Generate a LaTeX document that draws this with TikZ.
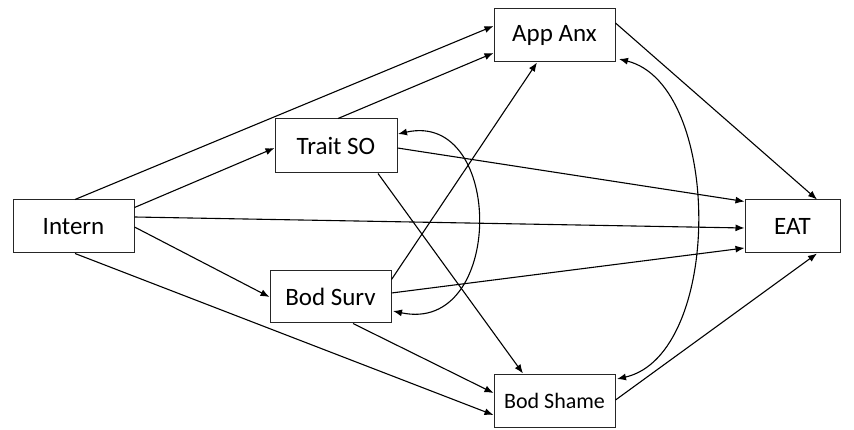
\documentclass[tikz,border=0pt]{standalone}
\usepackage{fontspec}
\setmainfont{Carlito}
\usetikzlibrary{arrows.meta}
\begin{document}
\begin{tikzpicture}[x=1pt,y=-1pt,
  box/.style={draw=black!85,line width=1pt,fill=white,inner sep=0pt,
    minimum width=121pt,minimum height=53pt,font=\fontsize{25}{28}\selectfont},
  arr/.style={line width=1.1pt,-{Latex[length=9pt,width=7pt]}},
  darr/.style={line width=1.1pt,{Latex[length=9pt,width=7pt]}-{Latex[length=9pt,width=7pt]}}]
\useasboundingbox (0,0) rectangle (854,430);
\node[box] (intern) at (73.5,226.5) {Intern};
\node[box,minimum width=122pt,minimum height=54pt] (trait) at (336,146) {Trait SO};
\node[box,minimum height=52pt] (surv) at (330.5,297) {Bod Surv};
\node[box] (anx) at (554.5,35.5) {App Anx};
\node[box,font=\fontsize{22}{26}\selectfont] (shame) at (554.5,400.5) {Bod Shame};
\node[box,minimum width=95pt] (eat) at (792.5,226.5) {EAT};
% Intern
\draw[arr] ([xshift=1.5pt]intern.north) -- ([yshift=9.5pt]anx.west);
\draw[arr] ([yshift=19pt]intern.east) -- ([yshift=-2pt]trait.west);
\draw[arr] ([yshift=9.5pt]intern.east) -- ([yshift=-1.5pt]eat.west);
\draw[arr] ([yshift=-0.5pt]intern.east) -- (surv.west);
\draw[arr] ([xshift=1.5pt]intern.south) -- ([yshift=-14.5pt]shame.west);
% Trait SO
\draw[arr] ([xshift=2pt]trait.north) -- ([yshift=-17.5pt]anx.west);
\draw[arr] ([yshift=-2pt]trait.east) -- ([yshift=25pt]eat.west);
\draw[arr] ([xshift=42pt]trait.south) -- ([xshift=-31.5pt]shame.north);
% Bod Surv
\draw[arr] ([yshift=-9pt]surv.north east) -- ([xshift=-17.5pt]anx.south);
\draw[arr] ([yshift=4pt]surv.east) -- ([yshift=-21.5pt]eat.west);
\draw[arr] ([xshift=22.5pt]surv.south) -- ([yshift=7.5pt]shame.west);
% to EAT
\draw[arr] ([yshift=12.5pt]anx.east) -- ([xshift=24.5pt]eat.north);
\draw[arr] ([yshift=0.5pt]shame.east) -- ([xshift=24.5pt]eat.south);
% covariances
\coordinate (t1) at (398,134);
\coordinate (s1) at (393,311);
\draw[darr] (t1) .. controls (505,110) and (505,335) .. (s1);
\coordinate (a1) at (619,59);
\coordinate (b1) at (617,379);
\draw[darr] (a1) .. controls (723,85) and (723,355) .. (b1);
\end{tikzpicture}
\end{document}
